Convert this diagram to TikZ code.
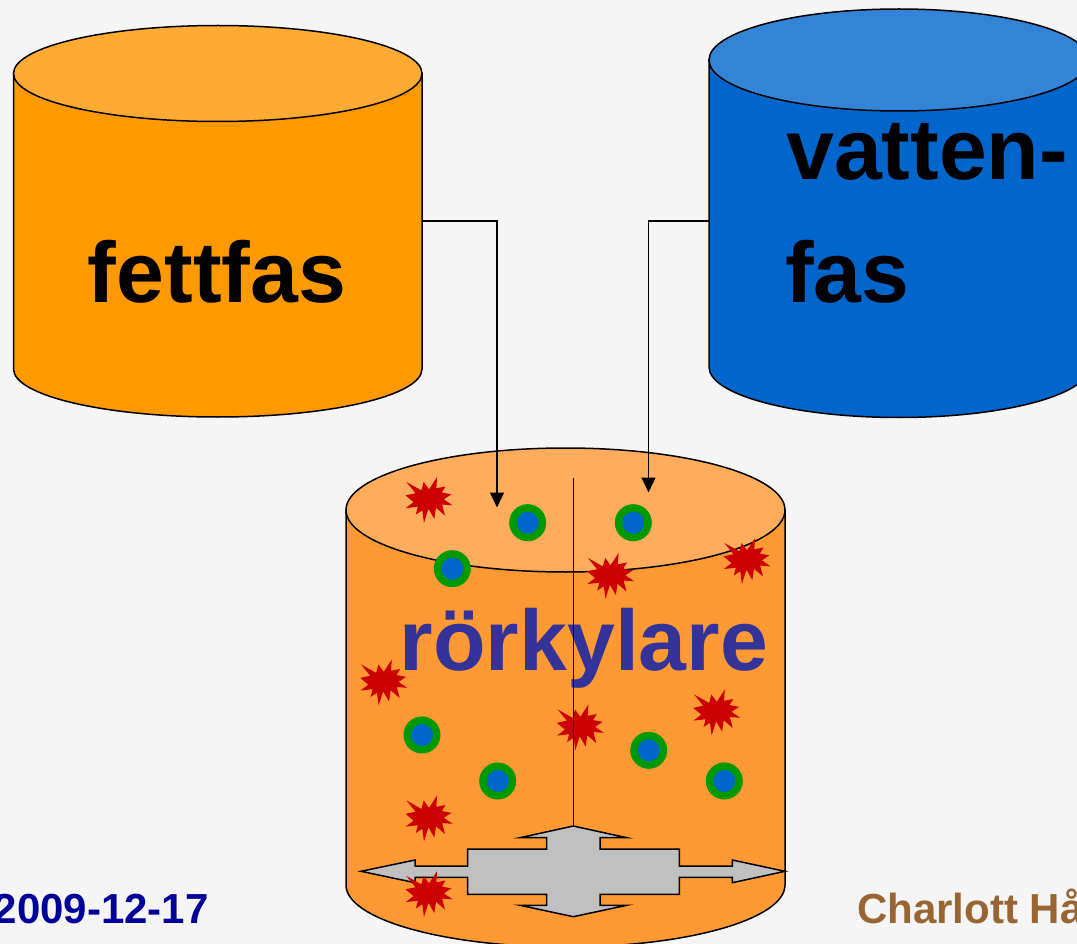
\documentclass[tikz,border=0pt]{standalone}
\usepackage{fontspec}
\setmainfont{Liberation Sans}
\usetikzlibrary{arrows.meta}
\definecolor{bg}{RGB}{245,245,245}
\definecolor{fatbody}{RGB}{255,153,0}
\definecolor{fattop}{RGB}{255,171,51}
\definecolor{watbody}{RGB}{0,102,204}
\definecolor{wattop}{RGB}{51,131,214}
\definecolor{mixbody}{RGB}{255,153,51}
\definecolor{mixtop}{RGB}{255,173,92}
\definecolor{crossgray}{RGB}{192,192,192}
\definecolor{starred}{RGB}{204,0,0}
\definecolor{dropblue}{RGB}{0,102,204}
\definecolor{dropgreen}{RGB}{0,153,0}
\definecolor{mixtext}{RGB}{51,51,153}
\definecolor{datecol}{RGB}{0,0,153}
\definecolor{namecol}{RGB}{153,102,51}
\tikzset{
  cylline/.style={draw=black, line width=1.5pt},
  conn/.style={draw=black, line width=1.3pt, -{Triangle[length=15pt,width=14pt]}},
  bigtext/.style={inner sep=0pt, font=\fontsize{86}{86}\selectfont\bfseries},
  foottext/.style={inner sep=0pt, font=\fontsize{42}{42}\selectfont\bfseries},
  drop/.style={draw=dropgreen, fill=dropblue, line width=7.5pt},
  burst/.pic={\fill[starred] (0,-10.65) -- (8.10,-23.0) -- (7.30,-11.66) -- (16.49,-13.51) -- (12.84,-7.42) -- (22.40,-5.67) -- (14.81,-0.69) -- (23.5,5.30) -- (13.14,4.56) -- (15.98,15.54) -- (7.01,7.79) -- (5.32,19.03) -- (-0.58,8.81) -- (-5.04,23.0) -- (-6.71,10.28) -- (-13.14,14.52) -- (-11.17,6.68) -- (-23.21,8.06) -- (-15.40,2.08) -- (-23.5,-4.65) -- (-13.43,-6.78) -- (-22.69,-18.11) -- (-7.59,-9.54) -- (-5.33,-18.11) -- cycle;}
}
\begin{document}
\begin{tikzpicture}[x=1pt,y=-1pt]
\useasboundingbox (0,0) rectangle (1077,944);
\clip (0,0) rectangle (1077,944);
\fill[bg] (0,0) rectangle (1077,944);

% left cylinder (fettfas)
\filldraw[cylline, fill=fatbody] (13.5,73.5) -- (13.5,369) arc[start angle=180,end angle=360,x radius=204.25pt,y radius=48pt] -- (422,73.5) -- cycle;
\filldraw[cylline, fill=fattop] (217.75,73.5) ellipse[x radius=204.25pt, y radius=48pt];
\node[bigtext, anchor=base] (fett) at (217,302) {fettfas};

% right cylinder (vattenfas)
\filldraw[cylline, fill=watbody] (709,60) -- (709,367) arc[start angle=180,end angle=360,x radius=190pt,y radius=50.5pt] -- (1089,60) -- cycle;
\filldraw[cylline, fill=wattop] (899,60) ellipse[x radius=190pt, y radius=51pt];
\node[bigtext, anchor=base west] (vat1) at (786,180) {vatten-};
\node[bigtext, anchor=base west] (vat2) at (785,302) {fas};

% centre cylinder (rörkylare)
\filldraw[cylline, fill=mixbody] (346,510) -- (346,885) arc[start angle=180,end angle=360,x radius=219.5pt,y radius=62pt] -- (785,510) -- cycle;
\filldraw[cylline, fill=mixtop] (565.5,510) ellipse[x radius=219.5pt, y radius=62pt];

% connectors
\coordinate (fatout) at (422,221);
\coordinate (fatin) at (497,507.5);
\coordinate (watout) at (709,221);
\coordinate (watin) at (648.5,492.5);
\draw[conn] (fatout) -| (fatin);
\draw[conn] (watout) -| (watin);

\node[inner sep=0pt, font=\fontsize{86}{86}\selectfont\bfseries, text=mixtext, anchor=base] (mix) at (584,670.5) {rörkylare};

% droplets
\draw[drop] (527.7,522.7) circle[radius=14.75pt];
\draw[drop] (633.3,522.7) circle[radius=14.75pt];
\draw[drop] (452.3,568.7) circle[radius=14.75pt];
\draw[drop] (422,735) circle[radius=14.75pt];
\draw[drop] (497.7,781) circle[radius=14.75pt];
\draw[drop] (648.7,750.3) circle[radius=14.75pt];
\draw[drop] (724.3,781) circle[radius=14.75pt];

% crystals
\pic at (429,500) {burst};
\pic at (610.5,576) {burst};
\pic at (747,561) {burst};
\pic at (383.7,682.5) {burst};
\pic at (580.3,727.5) {burst};
\pic at (716.7,712.5) {burst};
\pic at (429,818.5) {burst};

% stirrer
\coordinate (shafttop) at (573.3,478);
\coordinate (crosstop) at (573.3,826);
\draw[line width=1.6pt] (shafttop) -- (crosstop);
\filldraw[draw=black, line width=1.5pt, fill=crossgray] (crosstop) -- (626.7,837.7) -- (600,837.7) -- (600,849) -- (679.3,849) -- (679.3,866) -- (732.3,866) -- (732.3,860) -- (785,871.3) -- (732.3,882.7) -- (732.3,877.3) -- (679.3,877.3) -- (679.3,894.3) -- (600,894.3) -- (600,905.3) -- (626.7,905.3) -- (573.3,916.7) -- (520,905.3) -- (546.7,905.3) -- (546.7,894.3) -- (467.7,894.3) -- (467.7,877.3) -- (415,877.3) -- (415,882.7) -- (361,871.3) -- (415,860) -- (415,866) -- (467.7,866) -- (467.7,849) -- (546.7,849) -- (546.7,837.7) -- (520,837.7) -- cycle;
\pic at (429,894) {burst};

% footer
\node[foottext, text=datecol, anchor=base west] (date) at (-6.5,923.3) {2009-12-17};
\node[foottext, text=namecol, anchor=base west] (name) at (857,923.3) {Charlott Hå};
\end{tikzpicture}
\end{document}
